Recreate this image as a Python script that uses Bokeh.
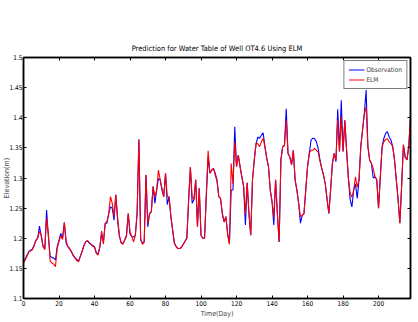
from bokeh.plotting import figure
from bokeh.models import Range1d, LinearAxis, FixedTicker, Legend, LegendItem, CustomJSTickFormatter
from bokeh.embed import file_html
from bokeh.resources import INLINE

title_text = "Prediction for Water Table of Well OT4.6 Using ELM"
x_label = "Time(Day)"
y_label = "Elevation(m)"
series_names = ["Observation", "ELM"]

days = list(range(0, 219))

observation = [
    1.161, 1.166, 1.172, 1.178, 1.180, 1.182, 1.189, 1.197, 1.200, 1.220,
    1.203, 1.186, 1.183, 1.247, 1.203, 1.170, 1.168, 1.167, 1.164, 1.186,
    1.197, 1.208, 1.200, 1.226, 1.192, 1.186, 1.183, 1.178, 1.172, 1.168,
    1.165, 1.162, 1.170, 1.178, 1.188, 1.194, 1.196, 1.192, 1.190, 1.188,
    1.186, 1.176, 1.174, 1.185, 1.208, 1.193, 1.225, 1.225, 1.241, 1.252,
    1.250, 1.230, 1.272, 1.230, 1.203, 1.193, 1.191, 1.197, 1.205, 1.241,
    1.207, 1.203, 1.202, 1.205, 1.241, 1.364, 1.197, 1.192, 1.195, 1.305,
    1.219, 1.241, 1.244, 1.286, 1.258, 1.280, 1.299, 1.297, 1.280, 1.269,
    1.308, 1.256, 1.269, 1.236, 1.214, 1.192, 1.186, 1.183, 1.183, 1.185,
    1.190, 1.195, 1.200, 1.262, 1.318, 1.258, 1.264, 1.297, 1.219, 1.283,
    1.205, 1.200, 1.200, 1.270, 1.335, 1.308, 1.313, 1.316, 1.308, 1.297,
    1.269, 1.266, 1.241, 1.227, 1.236, 1.208, 1.192, 1.280, 1.280, 1.385,
    1.319, 1.338, 1.319, 1.302, 1.286, 1.222, 1.292, 1.241, 1.205, 1.297,
    1.330, 1.357, 1.368, 1.366, 1.371, 1.375, 1.352, 1.333, 1.319, 1.280,
    1.261, 1.222, 1.297, 1.241, 1.194, 1.330, 1.352, 1.354, 1.415, 1.341,
    1.335, 1.322, 1.346, 1.297, 1.280, 1.258, 1.225, 1.238, 1.241, 1.280,
    1.319, 1.341, 1.363, 1.366, 1.365, 1.360, 1.349, 1.330, 1.316, 1.305,
    1.290, 1.265, 1.241, 1.280, 1.324, 1.341, 1.327, 1.414, 1.344, 1.429,
    1.344, 1.396, 1.346, 1.300, 1.264, 1.252, 1.280, 1.290, 1.266, 1.297,
    1.352, 1.380, 1.407, 1.446, 1.352, 1.330, 1.324, 1.300, 1.302, 1.297,
    1.250, 1.302, 1.352, 1.366, 1.374, 1.377, 1.368, 1.363, 1.352, 1.330,
    1.297, 1.265, 1.225, 1.286, 1.355, 1.335, 1.330, 1.352, 1.400,
]

elm = [
    1.159, 1.164, 1.170, 1.177, 1.179, 1.181, 1.188, 1.196, 1.201, 1.211,
    1.206, 1.187, 1.181, 1.233, 1.208, 1.162, 1.159, 1.157, 1.153, 1.183,
    1.195, 1.204, 1.198, 1.226, 1.196, 1.186, 1.182, 1.177, 1.171, 1.167,
    1.163, 1.161, 1.170, 1.178, 1.187, 1.194, 1.196, 1.193, 1.190, 1.187,
    1.185, 1.175, 1.172, 1.186, 1.212, 1.190, 1.224, 1.228, 1.240, 1.269,
    1.258, 1.236, 1.272, 1.235, 1.205, 1.192, 1.190, 1.197, 1.203, 1.241,
    1.210, 1.203, 1.194, 1.205, 1.241, 1.364, 1.199, 1.190, 1.193, 1.305,
    1.225, 1.241, 1.244, 1.286, 1.269, 1.280, 1.313, 1.297, 1.283, 1.269,
    1.308, 1.269, 1.269, 1.238, 1.214, 1.192, 1.186, 1.183, 1.183, 1.185,
    1.190, 1.195, 1.200, 1.262, 1.318, 1.269, 1.264, 1.297, 1.219, 1.283,
    1.205, 1.200, 1.200, 1.275, 1.345, 1.308, 1.313, 1.316, 1.305, 1.295,
    1.269, 1.266, 1.241, 1.227, 1.236, 1.205, 1.190, 1.324, 1.290, 1.360,
    1.319, 1.338, 1.319, 1.302, 1.286, 1.240, 1.292, 1.241, 1.205, 1.297,
    1.330, 1.357, 1.357, 1.352, 1.360, 1.366, 1.352, 1.333, 1.319, 1.280,
    1.261, 1.235, 1.297, 1.241, 1.194, 1.330, 1.352, 1.354, 1.396, 1.341,
    1.335, 1.322, 1.346, 1.297, 1.280, 1.258, 1.236, 1.238, 1.241, 1.280,
    1.319, 1.341, 1.346, 1.346, 1.349, 1.346, 1.343, 1.328, 1.316, 1.305,
    1.290, 1.265, 1.241, 1.280, 1.324, 1.341, 1.330, 1.396, 1.344, 1.402,
    1.344, 1.396, 1.346, 1.300, 1.275, 1.268, 1.280, 1.302, 1.285, 1.297,
    1.352, 1.380, 1.407, 1.418, 1.352, 1.330, 1.324, 1.316, 1.302, 1.297,
    1.250, 1.302, 1.352, 1.360, 1.364, 1.365, 1.360, 1.357, 1.352, 1.330,
    1.297, 1.265, 1.225, 1.286, 1.355, 1.335, 1.330, 1.352, 1.400,
]

x_ticks = [0, 20, 40, 60, 80, 100, 120, 140, 160, 180, 200]
y_ticks = [1.1, 1.15, 1.2, 1.25, 1.3, 1.35, 1.4, 1.45, 1.5]
y_tick_labels = ["1.1", "1.15", "1.2", "1.25", "1.3", "1.35", "1.4", "1.45", "1.5"]

FONT = "'DejaVu Sans Condensed', 'Liberation Sans', sans-serif"

p = figure(width=418, height=322, output_backend="svg", toolbar_location=None,
           x_range=Range1d(0, 218), y_range=Range1d(1.1, 1.5),
           min_border_left=23, min_border_right=8, min_border_top=57,
           min_border_bottom=24, background_fill_color="white",
           border_fill_color="white")

p.title.text = title_text
p.title.align = "center"
p.title.text_font = FONT
p.title.text_font_size = "7.5px"
p.title.text_font_style = "normal"
p.title.text_color = "black"

p.xgrid.visible = False
p.ygrid.visible = False
p.outline_line_color = "black"
p.outline_line_width = 1.5

def style_axis(ax):
    ax.axis_line_color = "black"
    ax.axis_line_width = 1.5
    ax.major_tick_in = 3
    ax.major_tick_out = 0
    ax.minor_tick_line_color = None
    ax.major_tick_line_color = "black"
    ax.major_label_text_font = FONT
    ax.major_label_text_font_size = "6.5px"
    ax.major_label_text_color = "black"
    ax.major_label_standoff = 2
    ax.axis_label_text_font = FONT
    ax.axis_label_text_font_size = "7px"
    ax.axis_label_text_font_style = "normal"
    ax.axis_label_standoff = 1

xa = p.xaxis[0]
xa.ticker = FixedTicker(ticks=x_ticks)
xa.axis_label = x_label
style_axis(xa)

ya = p.yaxis[0]
ya.ticker = FixedTicker(ticks=y_ticks)
ya.major_label_overrides = {t: l for t, l in zip(y_ticks, y_tick_labels)}
ya.axis_label = y_label
style_axis(ya)
ya.axis_label_standoff = -5
ya.major_label_standoff = 1

blank = CustomJSTickFormatter(code="return ''")
top = LinearAxis(ticker=FixedTicker(ticks=x_ticks), formatter=blank)
style_axis(top)
top.major_label_standoff = 0
p.add_layout(top, "above")
right = LinearAxis(ticker=FixedTicker(ticks=y_ticks), formatter=blank)
style_axis(right)
right.major_label_standoff = 0
p.add_layout(right, "right")

r_obs = p.line(days, observation, line_color="#0000ff", line_width=1.1)
r_elm = p.line(days, elm, line_color="#ff0000", line_width=1.1)

legend = Legend(items=[LegendItem(label=series_names[0], renderers=[r_obs]),
                       LegendItem(label=series_names[1], renderers=[r_elm])],
                location="top_right")
legend.label_text_font = FONT
legend.label_text_font_size = "6.5px"
legend.label_height = 9
legend.glyph_height = 9
legend.glyph_width = 16
legend.label_standoff = 2
legend.spacing = 1
legend.padding = 4
legend.margin = 3
legend.border_line_color = "black"
legend.border_line_width = 1
legend.background_fill_alpha = 1
p.add_layout(legend)

open("out.html", "w").write(file_html(p, INLINE))
